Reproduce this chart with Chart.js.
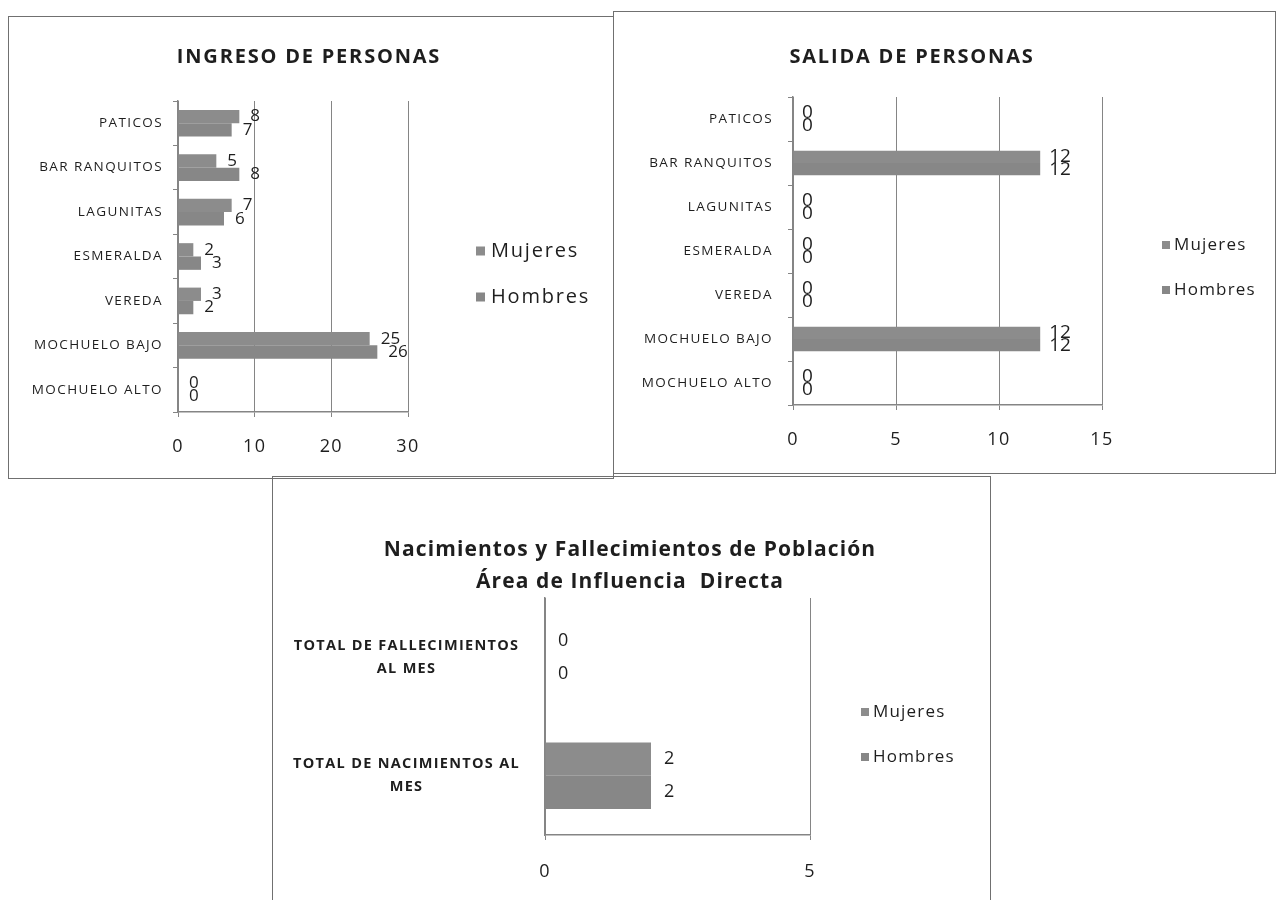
<!DOCTYPE html>
<html><head><meta charset="utf-8">
<script src="https://cdn.jsdelivr.net/npm/chart.js@4"></script>
<style>
body{margin:0;background:#fff;width:1278px;height:900px;overflow:hidden;position:relative;}
.panel{position:absolute;border:1.5px solid #707070;box-sizing:border-box;}
canvas{position:absolute;}
</style></head><body>
<div class="panel" style="left:8px;top:16px;width:606px;height:463px"></div>
<div class="panel" style="left:613px;top:11px;width:663px;height:463px"></div>
<div class="panel" style="left:272px;top:476px;width:719px;height:440px"></div>
<canvas id="c1" width="605" height="462" style="left:8px;top:16px"></canvas>
<canvas id="c2" width="662" height="462" style="left:613px;top:11px"></canvas>
<canvas id="c3" width="718" height="424" style="left:272px;top:476px"></canvas>
<script>
// ---- data ----
const seriesNames = ['Mujeres', 'Hombres'];
const veredas = ['PATICOS', 'BAR RANQUITOS', 'LAGUNITAS', 'ESMERALDA', 'VEREDA', 'MOCHUELO BAJO', 'MOCHUELO ALTO'];
const ingresoMujeres = [8, 5, 7, 2, 3, 25, 0];
const ingresoHombres = [7, 8, 6, 3, 2, 26, 0];
const salidaMujeres = [0, 12, 0, 0, 0, 12, 0];
const salidaHombres = [0, 12, 0, 0, 0, 12, 0];
const vitalCategorias = [['TOTAL DE FALLECIMIENTOS', 'AL MES'], ['TOTAL DE NACIMIENTOS AL', 'MES']];
const vitalMujeres = [0, 2];
const vitalHombres = [0, 2];
const titulo1 = ['INGRESO DE PERSONAS'];
const titulo2 = ['SALIDA DE PERSONAS'];
const titulo3 = ['Nacimientos y Fallecimientos de Población', 'Área de Influencia  Directa'];

// ---- style ----
const BAR_M = '#8c8c8c';
const BAR_H = '#878787';
const GRID = '#858585';
const TXT = '#1e1e1e';
const FONT = "'Open Sans', sans-serif";

const decor = {
  id: 'decor',
  beforeLayout(chart, args, o) {
    chart.ctx.letterSpacing = o.axisLS;
  },
  beforeDraw(chart, args, o) {
    chart.ctx.letterSpacing = o.axisLS;
  },
  afterDatasetsDraw(chart, args, o) {
    const ctx = chart.ctx;
    ctx.save();
    ctx.letterSpacing = '0px';
    ctx.font = o.labelFont; ctx.fillStyle = TXT;
    ctx.textAlign = 'left'; ctx.textBaseline = 'middle';
    chart.data.datasets.forEach((ds, i) => {
      chart.getDatasetMeta(i).data.forEach((el, j) => {
        ctx.fillText(String(ds.data[j]), el.x + o.labelOffset, el.y);
      });
    });
    ctx.restore();
  },
  afterDraw(chart, args, o) {
    const ctx = chart.ctx;
    ctx.save();
    ctx.fillStyle = TXT; ctx.textAlign = 'center'; ctx.textBaseline = 'middle';
    ctx.font = o.titleFont; ctx.letterSpacing = o.titleLS;
    o.title.forEach((t, i) => ctx.fillText(t, o.titleX, o.titleY + i * o.titleLH));
    ctx.font = o.legendFont; ctx.textAlign = 'left'; ctx.letterSpacing = o.legendLS;
    chart.data.datasets.forEach((ds, i) => {
      const y = o.legendY + i * o.legendGap;
      ctx.fillStyle = ds.backgroundColor;
      ctx.fillRect(o.legendX, y - o.box / 2, o.box, o.box);
      ctx.fillStyle = TXT;
      ctx.fillText(ds.label, o.legendX + o.box + o.legendTextGap, y);
    });
    ctx.restore();
  }
};

function makeChart(id, cats, muj, hom, c) {
  return new Chart(document.getElementById(id), {
    type: 'bar',
    data: {
      labels: cats,
      datasets: [
        { label: seriesNames[0], data: muj, backgroundColor: BAR_M, barPercentage: 1, categoryPercentage: c.catPct },
        { label: seriesNames[1], data: hom, backgroundColor: BAR_H, barPercentage: 1, categoryPercentage: c.catPct }
      ]
    },
    options: {
      indexAxis: 'y', responsive: false, animation: false,
      layout: { padding: { top: c.padTop, right: c.padRight, bottom: 0, left: 0 } },
      plugins: {
        legend: { display: false }, tooltip: { enabled: false },
        decor: c.decor
      },
      scales: {
        x: {
          min: 0, max: c.max,
          afterFit: s => { s.height = c.xHeight; },
          ticks: { stepSize: c.step, color: TXT, padding: c.xPad, font: { family: FONT, size: 18 } },
          grid: { color: GRID, lineWidth: 1, tickLength: 5, drawTicks: true },
          border: { display: true, color: GRID, width: 1.5 }
        },
        y: {
          afterFit: s => { s.width = c.yWidth; },
          ticks: { autoSkip: false, color: TXT, padding: c.yPad, crossAlign: c.crossAlign || 'near',
                   font: c.yFont },
          grid: { drawOnChartArea: false, drawTicks: c.yTicks, tickLength: 5, color: GRID, offset: true },
          border: { display: true, color: GRID, width: 1.5 }
        }
      }
    },
    plugins: [decor]
  });
}

makeChart('c1', veredas, ingresoMujeres, ingresoHombres, {
  catPct: 0.6, padTop: 85, padRight: 205, xHeight: 66, yWidth: 170, max: 30, step: 10,
  xPad: 19, yPad: 10, yTicks: true,
  yFont: { family: FONT, size: 13.5 },
  decor: { axisLS: '1.4px', title: titulo1, titleX: 301, titleY: 41, titleLH: 0,
           titleFont: `bold 20px ${FONT}`, titleLS: '1.8px',
           legendX: 468, legendY: 235, legendGap: 46, box: 9, legendTextGap: 6,
           legendFont: `20px ${FONT}`, legendLS: '1.8px', labelFont: `17px ${FONT}`, labelOffset: 11 }
});

makeChart('c2', veredas, salidaMujeres, salidaHombres, {
  catPct: 0.56, padTop: 86, padRight: 173, xHeight: 68, yWidth: 180, max: 15, step: 5,
  xPad: 19, yPad: 15, yTicks: true,
  yFont: { family: FONT, size: 13.5 },
  decor: { axisLS: '1.4px', title: titulo2, titleX: 299, titleY: 46, titleLH: 0,
           titleFont: `bold 20px ${FONT}`, titleLS: '1.8px',
           legendX: 549, legendY: 234, legendGap: 45, box: 8, legendTextGap: 4,
           legendFont: `17px ${FONT}`, legendLS: '1.2px', labelFont: `19px ${FONT}`, labelOffset: 9 }
});

makeChart('c3', vitalCategorias, vitalMujeres, vitalHombres, {
  catPct: 0.56, padTop: 122, padRight: 180, xHeight: 65, yWidth: 273, max: 5, step: 5,
  xPad: 21, yPad: 25, yTicks: false, crossAlign: 'center',
  yFont: { family: FONT, size: 14.5, weight: 'bold', lineHeight: 1.6 },
  decor: { axisLS: '1.3px', title: titulo3, titleX: 358, titleY: 74, titleLH: 32,
           titleFont: `bold 21px ${FONT}`, titleLS: '1.1px',
           legendX: 589, legendY: 236, legendGap: 45, box: 8, legendTextGap: 4,
           legendFont: `17px ${FONT}`, legendLS: '1.2px', labelFont: `18px ${FONT}`, labelOffset: 13 }
});
</script>
</body></html>
